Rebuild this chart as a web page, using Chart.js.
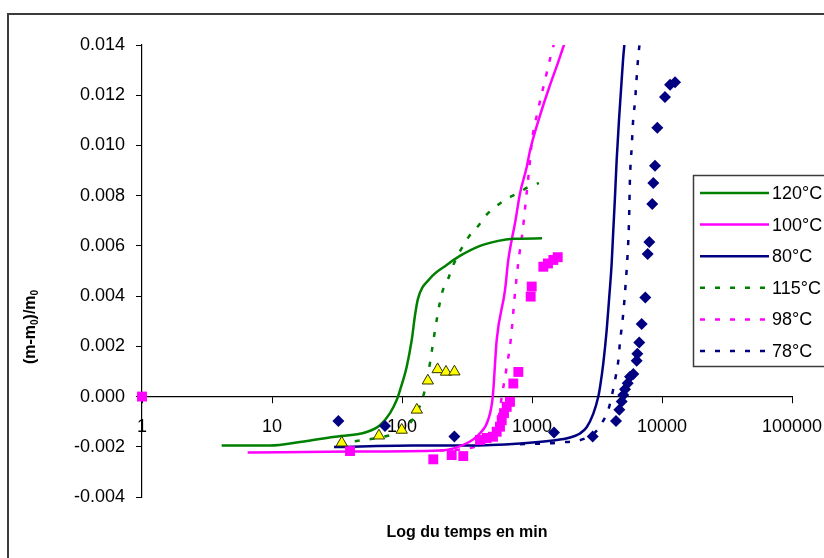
<!DOCTYPE html>
<html><head><meta charset="utf-8">
<script src="https://cdn.jsdelivr.net/npm/chart.js@4"></script>
<style>html,body{margin:0;padding:0;background:#fff}canvas{display:block}</style>
</head><body>
<canvas id="c" width="824" height="558"></canvas>
<script>
// ---- tick labels ----
const xTicks = [1, 10, 100, 1000, 10000, 100000];
const xTickLabels = ["1", "10", "100", "1000", "10000", "100000"];
const yTicks = [-0.004, -0.002, 0, 0.002, 0.004, 0.006, 0.008, 0.010, 0.012, 0.014];
const yTickLabels = ["-0.004", "-0.002", "0.000", "0.002", "0.004", "0.006", "0.008", "0.010", "0.012", "0.014"];

// ---- model curves (time in min, (m-m0)/m0) ----
const c120_t = [4.1, 9.7, 16.4, 29.5, 53.5, 67.7, 80.9, 91, 96.6, 108.7, 118.8, 126, 132.8, 164, 222, 279, 398, 550, 714, 1195];
const c120_v = [-0.00195, -0.00195, -0.00181, -0.00161, -0.00141, -0.00114, -0.00066, -0.00014, 0.00026, 0.00119, 0.00225, 0.00325, 0.0039, 0.0047, 0.00525, 0.0056, 0.0060, 0.0062, 0.00628, 0.0063];

const c100_t = [6.5, 39.8, 196, 315, 398, 459, 499, 535, 620, 657, 698, 740, 809, 911, 966, 1153, 1375, 1585, 1763, 1858];
const c100_v = [-0.00223, -0.00219, -0.00215, -0.00186, -0.00146, -0.00094, -0.00001, 0.00225, 0.00424, 0.00544, 0.00624, 0.0069, 0.0081, 0.00914, 0.0098, 0.0112, 0.0124, 0.0133, 0.0140, 0.0143];

const c80_t = [30, 121.6, 315, 809, 1452, 1961, 2340, 2634, 2963, 3237, 3335, 3535, 3751, 3928, 4100, 4219, 4346, 4478, 4667, 4837, 5014, 5192];
const c80_v = [-0.00201, -0.00195, -0.00195, -0.00187, -0.00175, -0.00163, -0.00147, -0.00122, -0.00068, 0.0, 0.00037, 0.00132, 0.00263, 0.00396, 0.0053, 0.00661, 0.00793, 0.0094, 0.0110, 0.0122, 0.0134, 0.01427];

const c115_t = [33.3, 47.5, 74, 105, 128, 145, 158.5, 170, 186, 203, 226, 251, 328, 384, 443, 519, 631, 780, 966, 1132];
const c115_v = [-0.00187, -0.00175, -0.00159, -0.00127, -0.0007, -0.00002, 0.00086, 0.00185, 0.00313, 0.00412, 0.00468, 0.0053, 0.00638, 0.00678, 0.00722, 0.00754, 0.00786, 0.0081, 0.00838, 0.0085];

const c98_t = [196, 365, 475, 547, 588, 639, 686, 740, 785, 848, 894, 949, 1000, 1112, 1259, 1400, 1503];
const c98_v = [-0.00215, -0.0020, -0.00163, -0.00096, 0.00006, 0.00118, 0.00225, 0.00412, 0.00535, 0.00661, 0.00774, 0.0090, 0.0102, 0.0114, 0.0126, 0.0136, 0.0142];

const c78_t = [809, 1642, 2558, 3162, 3535, 3846, 4100, 4346, 4614, 4740, 5040, 5259, 5445, 5570, 5675, 5848, 6016, 6198, 6310, 6577, 6776];
const c78_v = [-0.0019, -0.00183, -0.00167, -0.00135, -0.00096, -0.00056, 0.0, 0.00064, 0.00143, 0.00211, 0.00333, 0.00452, 0.00572, 0.00691, 0.00874, 0.00993, 0.01112, 0.01172, 0.01232, 0.01358, 0.01418];

// ---- measured points ----
const tri_t = [34.4, 66.5, 99.5, 130, 158, 188, 218, 253];
const tri_v = [-0.00184, -0.00156, -0.00133, -0.00053, 0.00063, 0.00108, 0.00098, 0.00099];

const sq_t = [1, 39.8, 174, 241, 296, 398, 448, 501, 535, 567, 585, 609, 639, 677, 718, 785, 977, 995, 1222, 1327, 1459, 1577];
const sq_v = [0, -0.00217, -0.0025, -0.00233, -0.00237, -0.00173, -0.00165, -0.0016, -0.0014, -0.0012, -0.00094, -0.00066, -0.00041, -0.00021, 0.00052, 0.00098, 0.00398, 0.00438, 0.00517, 0.0053, 0.00544, 0.00555];

const dia_t = [32.4, 74, 253, 1477, 2931, 4429, 4696, 4899, 5040, 5192, 5445, 5675, 6016, 6386, 6455, 6686, 6980, 7440, 7760, 7985, 8413, 8570, 8830, 9200, 10540, 11530, 12600];
const dia_v = [-0.00097, -0.00117, -0.00159, -0.00143, -0.00159, -0.00097, -0.00053, -0.0002, 0.00006, 0.00029, 0.00053, 0.00079, 0.0009, 0.00143, 0.0017, 0.00215, 0.00289, 0.00394, 0.00568, 0.00615, 0.00767, 0.0085, 0.00919, 0.0107, 0.01193, 0.01242, 0.01252];

const legendLabels = ["120°C", "100°C", "80°C", "115°C", "98°C", "78°C"];

const GREEN = '#008000', MAG = '#FF00FF', NAVY = '#000080';
const DASH = [5, 10];
const FONT = 'Liberation Sans, Arial, sans-serif';

function pts(t, v) { return t.map((x, i) => ({ x: x, y: v[i] })); }
function lineDs(label, t, v, color, dash) {
  return { label, data: pts(t, v), showLine: true, borderColor: color, backgroundColor: color,
    borderWidth: 2.5, borderDash: dash || [], pointRadius: 0, pointHoverRadius: 0,
    cubicInterpolationMode: 'monotone', fill: false, order: 10 };
}

const legendStyles = [
  { color: GREEN, dash: [] }, { color: MAG, dash: [] }, { color: NAVY, dash: [] },
  { color: GREEN, dash: DASH }, { color: MAG, dash: DASH }, { color: NAVY, dash: DASH }
];

const decor = {
  id: 'decor',
  beforeDraw(chart) {
    const ctx = chart.ctx;
    ctx.save();
    ctx.fillStyle = '#fff';
    ctx.fillRect(0, 0, chart.width, chart.height);
    ctx.strokeStyle = '#3c3c3c';
    ctx.lineWidth = 2;
    ctx.strokeRect(8, 14, 1000, 1000);
    ctx.restore();
  },
  afterDraw(chart) {
    const ctx = chart.ctx;
    ctx.save();
    // legend box
    const lx = 693, ly = 175, lh = 191;
    ctx.fillStyle = '#fff';
    ctx.fillRect(lx, ly, 200, lh);
    ctx.strokeStyle = '#3c3c3c';
    ctx.lineWidth = 1.5;
    ctx.strokeRect(lx + 0.5, ly + 0.5, 200, lh);
    ctx.font = '18px ' + FONT;
    ctx.textBaseline = 'middle';
    ctx.textAlign = 'left';
    for (let i = 0; i < legendLabels.length; i++) {
      const y = 193 + i * 31.6;
      ctx.beginPath();
      ctx.strokeStyle = legendStyles[i].color;
      ctx.lineWidth = 2.5;
      ctx.setLineDash(legendStyles[i].dash);
      ctx.moveTo(700, y);
      ctx.lineTo(769, y);
      ctx.stroke();
      ctx.setLineDash([]);
      ctx.fillStyle = '#000';
      ctx.fillText(legendLabels[i], 772, y + 1);
    }
    // x title
    ctx.font = 'bold 16px ' + FONT;
    ctx.textAlign = 'center';
    ctx.fillStyle = '#000';
    ctx.fillText('Log du temps en min', 467, 533);
    // y title with subscripts
    ctx.translate(31, 327);
    ctx.rotate(-Math.PI / 2);
    const parts = [['(m-m', false], ['0', true], [')/m', false], ['0', true]];
    const big = 'bold 16px ' + FONT, small = 'bold 10px ' + FONT;
    let w = 0;
    parts.forEach(p => { ctx.font = p[1] ? small : big; w += ctx.measureText(p[0]).width; });
    let x = -w / 2;
    ctx.textAlign = 'left';
    parts.forEach(p => {
      ctx.font = p[1] ? small : big;
      ctx.fillText(p[0], x, p[1] ? 4 : 0);
      x += ctx.measureText(p[0]).width;
    });
    ctx.restore();
  }
};

new Chart(document.getElementById('c'), {
  type: 'scatter',
  data: {
    datasets: [
      { label: 'tri', data: pts(tri_t, tri_v), pointStyle: 'triangle', pointRadius: 6.5, backgroundColor: '#FFFF00', borderColor: '#333300', borderWidth: 1, clip: false, order: 1 },
      { label: 'sq', data: pts(sq_t, sq_v), pointStyle: 'rect', pointRadius: 7, backgroundColor: MAG, borderColor: MAG, borderWidth: 0, clip: false, order: 1 },
      { label: 'dia', data: pts(dia_t, dia_v), pointStyle: 'rectRot', pointRadius: 6, backgroundColor: NAVY, borderColor: NAVY, borderWidth: 0, clip: false, order: 1 },
      lineDs(legendLabels[0], c120_t, c120_v, GREEN),
      lineDs(legendLabels[1], c100_t, c100_v, MAG),
      lineDs(legendLabels[2], c80_t, c80_v, NAVY),
      lineDs(legendLabels[3], c115_t, c115_v, GREEN, DASH),
      lineDs(legendLabels[4], c98_t, c98_v, MAG, DASH),
      lineDs(legendLabels[5], c78_t, c78_v, NAVY, DASH)
    ]
  },
  options: {
    responsive: false,
    animation: false,
    events: [],
    layout: { padding: { left: 0, right: 32, top: 45, bottom: 61 } },
    plugins: { legend: { display: false }, tooltip: { enabled: false }, title: { display: false } },
    scales: {
      x: {
        type: 'logarithmic',
        position: { y: 0 },
        min: 1, max: 100000,
        afterBuildTicks: s => { s.ticks = xTicks.map(v => ({ value: v })); },
        afterFit: s => { s.paddingLeft = 0; s.paddingRight = 0; },
        ticks: {
          callback: (v) => xTickLabels[xTicks.indexOf(v)],
          font: { family: FONT, size: 18 }, color: '#000',
          padding: 14, maxRotation: 0, autoSkip: false
        },
        grid: { display: true, drawOnChartArea: false, drawTicks: true, tickLength: 6, color: '#000', lineWidth: 1 },
        border: { display: true, color: '#000', width: 1.2 }
      },
      y: {
        type: 'linear',
        position: 'left',
        min: -0.004, max: 0.014,
        afterBuildTicks: s => { s.ticks = yTicks.map(v => ({ value: v })); },
        afterFit: s => { s.width = 142; s.paddingTop = 0; s.paddingBottom = 0; },
        ticks: {
          callback: (v) => yTickLabels[yTicks.findIndex(t => Math.abs(t - v) < 1e-9)],
          font: { family: FONT, size: 18 }, color: '#000', padding: 11
        },
        grid: { display: true, drawOnChartArea: false, drawTicks: true, tickLength: 6, color: '#000', lineWidth: 1 },
        border: { display: true, color: '#000', width: 1.2 }
      }
    }
  },
  plugins: [decor]
});
</script>
</body></html>
